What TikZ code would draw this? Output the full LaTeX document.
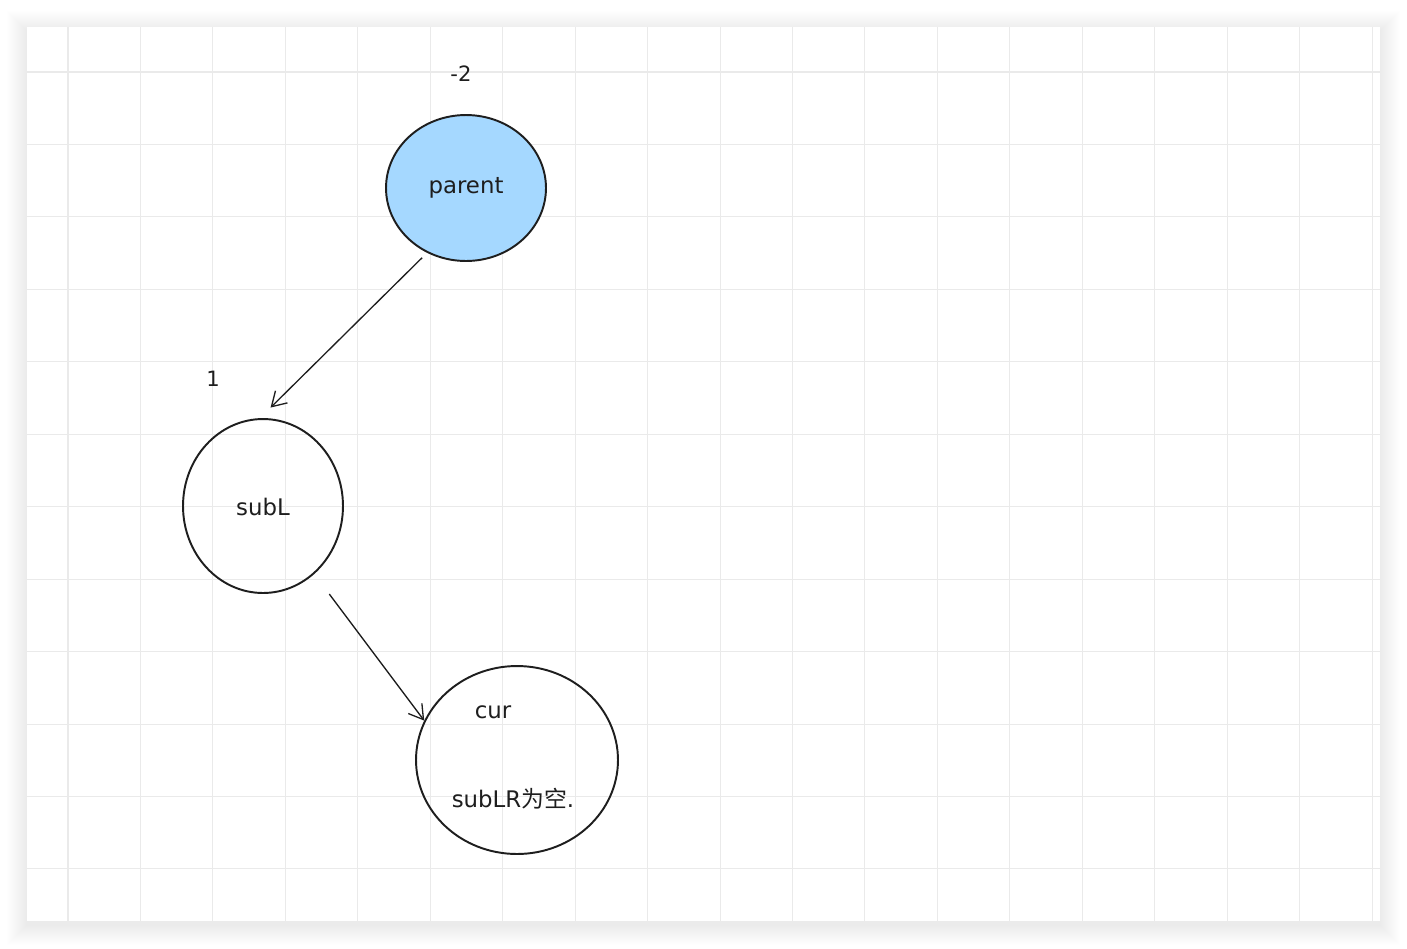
\documentclass[tikz,border=0pt]{standalone}
\usepackage{fontspec}
\setmainfont{DejaVu Sans}
\newfontfamily\cjk{Noto Sans CJK SC}
\usepackage{xcolor}
\usetikzlibrary{arrows.meta,shapes.geometric,positioning,calc}

\definecolor{ink}{HTML}{1E1E1E}
\definecolor{gridgray}{HTML}{EAEAEA}
\definecolor{nodeblue}{HTML}{A5D8FF}

\begin{document}
\begin{tikzpicture}[x=0.02cm, y=-0.02cm,
		treenode/.style={draw=ink, ellipse, line width=1.1pt, inner sep=0pt},
		lbl/.style={text=ink, font=\fontsize{13}{15}\selectfont, inner sep=0pt},
		num/.style={text=ink, font=\fontsize{12}{14}\selectfont, inner sep=0pt},
		arr/.style={draw=ink, line width=0.75pt, -{Straight Barb[length=0.28cm, width=0.34cm]}}]
		\useasboundingbox (0,0) rectangle (1407,948);
		\fill[white] (0,0) rectangle (1407,948);

		% card shadow and grid
		\foreach \s in {1,...,20}
			\fill[black, opacity=0.004] (27-\s,27-\s+4) rectangle (1380+\s,921+\s+4);
		\fill[white] (27,27) rectangle (1380,921);
		\foreach \i in {0,...,18}
			\draw[gridgray, line width=0.6pt] (68+72.45*\i,27) -- (68+72.45*\i,921);
		\foreach \j in {0,...,11}
			\draw[gridgray, line width=0.6pt] (27,72+72.45*\j) -- (1380,72+72.45*\j);

		% tree nodes
		\node[treenode, fill=nodeblue, minimum width=3.2cm, minimum height=2.92cm] (parent) at (466,188) {};
		\node[treenode, minimum width=3.2cm, minimum height=3.48cm] (subL) at (263,506) {};
		\node[treenode, minimum width=4.04cm, minimum height=3.76cm] (cur) at (517,760) {};

		\node[lbl] (parentText) at (466,188) {parent};
		\node[num] (parentVal) at (461,74) {-2};
		\node[lbl] (subLText) at (263,507) {subL};
		\node[num] (subLVal) at (213,379) {1};
		\node[lbl] (curText) at (493,712) {cur};
		\node[lbl] (curNote) at (513,799) {subLR{\cjk 为空}.};

		% edges
		\draw[arr, shorten <=0.14cm, shorten >=0.3cm] (parent.239) -- (subL.92);
		\draw[arr, shorten <=0.5cm] (subL.-53) -- (cur.157);
	\end{tikzpicture}
\end{document}
